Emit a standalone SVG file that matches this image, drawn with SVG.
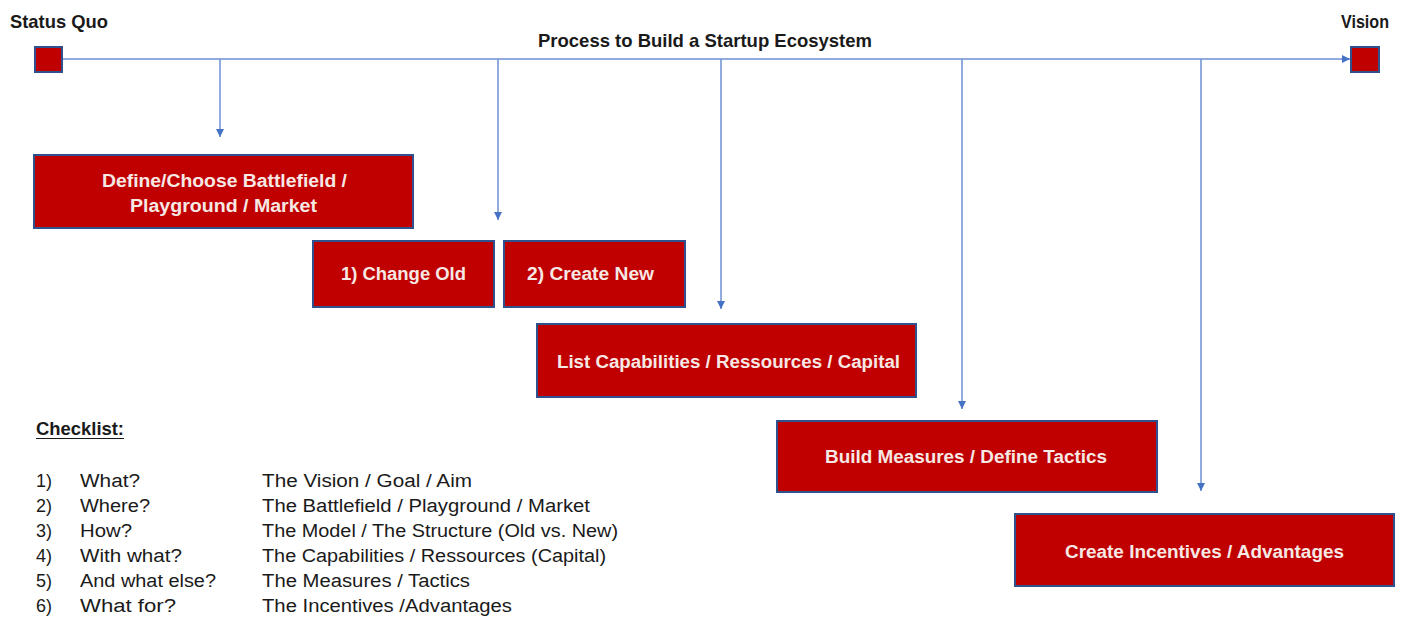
<svg xmlns="http://www.w3.org/2000/svg" width="1407" height="623" viewBox="0 0 1407 623">
<defs>
<marker id="arr" markerUnits="userSpaceOnUse" markerWidth="9" markerHeight="9" refX="8" refY="4" orient="auto">
<path d="M0,0 L8,4 L0,8 z" fill="#4472C4"/>
</marker>
<style>
.box{fill:#C00000;stroke:#2F528F;stroke-width:2}
.sq{fill:#C00000;stroke:#2F528F;stroke-width:2}
.bt{font-family:"Liberation Sans",Arial,sans-serif;font-weight:bold;font-size:17.5px;fill:#F6E8E4;text-anchor:middle}
.hd{font-family:"Liberation Sans",Arial,sans-serif;font-weight:bold;font-size:18.5px;fill:#1a1a1a}
.ck{font-family:"Liberation Sans",Arial,sans-serif;font-size:18px;fill:#1a1a1a}
.ln{stroke:#6E8FD3;stroke-width:1.5;fill:none;marker-end:url(#arr)}
</style>
</defs>
<rect width="1407" height="623" fill="#ffffff"/>

<g id="connectors">
<line class="ln" x1="62" y1="59" x2="1350" y2="59"/>
<line class="ln" x1="220" y1="59" x2="220" y2="137"/>
<line class="ln" x1="498" y1="59" x2="498" y2="220"/>
<line class="ln" x1="721" y1="59" x2="721" y2="309"/>
<line class="ln" x1="962" y1="59" x2="962" y2="409"/>
<line class="ln" x1="1201" y1="59" x2="1201" y2="491"/>
</g>

<g id="title">
<text class="hd" x="538" y="47" textLength="334" lengthAdjust="spacingAndGlyphs">Process to Build a Startup Ecosystem</text>
</g>

<g id="status-quo">
<text class="hd" x="10" y="28" textLength="98" lengthAdjust="spacingAndGlyphs">Status Quo</text>
<rect class="sq" x="35" y="47" width="27" height="25"/>
</g>

<g id="vision">
<text class="hd" x="1341" y="28" textLength="48" lengthAdjust="spacingAndGlyphs">Vision</text>
<rect class="sq" x="1351" y="47" width="28" height="25"/>
</g>

<g id="battlefield">
<rect class="box" x="34" y="155" width="379" height="73"/>
<text class="bt" x="224.5" y="187" textLength="245" lengthAdjust="spacingAndGlyphs">Define/Choose Battlefield /</text>
<text class="bt" x="223.5" y="212" textLength="187" lengthAdjust="spacingAndGlyphs">Playground / Market</text>
</g>

<g id="change-old">
<rect class="box" x="313" y="241" width="181" height="66"/>
<text class="bt" x="403.5" y="280" textLength="125" lengthAdjust="spacingAndGlyphs">1) Change Old</text>
</g>

<g id="create-new">
<rect class="box" x="504" y="241" width="181" height="66"/>
<text class="bt" x="590.5" y="280" textLength="127" lengthAdjust="spacingAndGlyphs">2) Create New</text>
</g>

<g id="capabilities">
<rect class="box" x="537" y="324" width="379" height="73"/>
<text class="bt" x="728.5" y="368" textLength="343" lengthAdjust="spacingAndGlyphs">List Capabilities / Ressources / Capital</text>
</g>

<g id="measures">
<rect class="box" x="777" y="421" width="380" height="71"/>
<text class="bt" x="966" y="463" textLength="282" lengthAdjust="spacingAndGlyphs">Build Measures / Define Tactics</text>
</g>

<g id="incentives">
<rect class="box" x="1015" y="514" width="379" height="72"/>
<text class="bt" x="1204.5" y="558" textLength="279" lengthAdjust="spacingAndGlyphs">Create Incentives / Advantages</text>
</g>

<g id="checklist">
<text class="hd" x="36" y="435" textLength="88" lengthAdjust="spacingAndGlyphs">Checklist:</text>
<line x1="36" y1="438.5" x2="124" y2="438.5" stroke="#1a1a1a" stroke-width="1.2"/>

<text class="ck" x="36" y="487">1)</text>
<text class="ck" x="36" y="512">2)</text>
<text class="ck" x="36" y="537">3)</text>
<text class="ck" x="36" y="562">4)</text>
<text class="ck" x="36" y="587">5)</text>
<text class="ck" x="36" y="612">6)</text>

<text class="ck" x="80" y="487" textLength="60" lengthAdjust="spacingAndGlyphs">What?</text>
<text class="ck" x="80" y="512" textLength="70" lengthAdjust="spacingAndGlyphs">Where?</text>
<text class="ck" x="80" y="537" textLength="52" lengthAdjust="spacingAndGlyphs">How?</text>
<text class="ck" x="80" y="562" textLength="102" lengthAdjust="spacingAndGlyphs">With what?</text>
<text class="ck" x="80" y="587" textLength="136" lengthAdjust="spacingAndGlyphs">And what else?</text>
<text class="ck" x="80" y="612" textLength="96" lengthAdjust="spacingAndGlyphs">What for?</text>

<text class="ck" x="262" y="487" textLength="210" lengthAdjust="spacingAndGlyphs">The Vision / Goal / Aim</text>
<text class="ck" x="262" y="512" textLength="328" lengthAdjust="spacingAndGlyphs">The Battlefield / Playground / Market</text>
<text class="ck" x="262" y="537" textLength="356" lengthAdjust="spacingAndGlyphs">The Model / The Structure (Old vs. New)</text>
<text class="ck" x="262" y="562" textLength="344" lengthAdjust="spacingAndGlyphs">The Capabilities / Ressources (Capital)</text>
<text class="ck" x="262" y="587" textLength="208" lengthAdjust="spacingAndGlyphs">The Measures / Tactics</text>
<text class="ck" x="262" y="612" textLength="250" lengthAdjust="spacingAndGlyphs">The Incentives /Advantages</text>
</g>
</svg>
